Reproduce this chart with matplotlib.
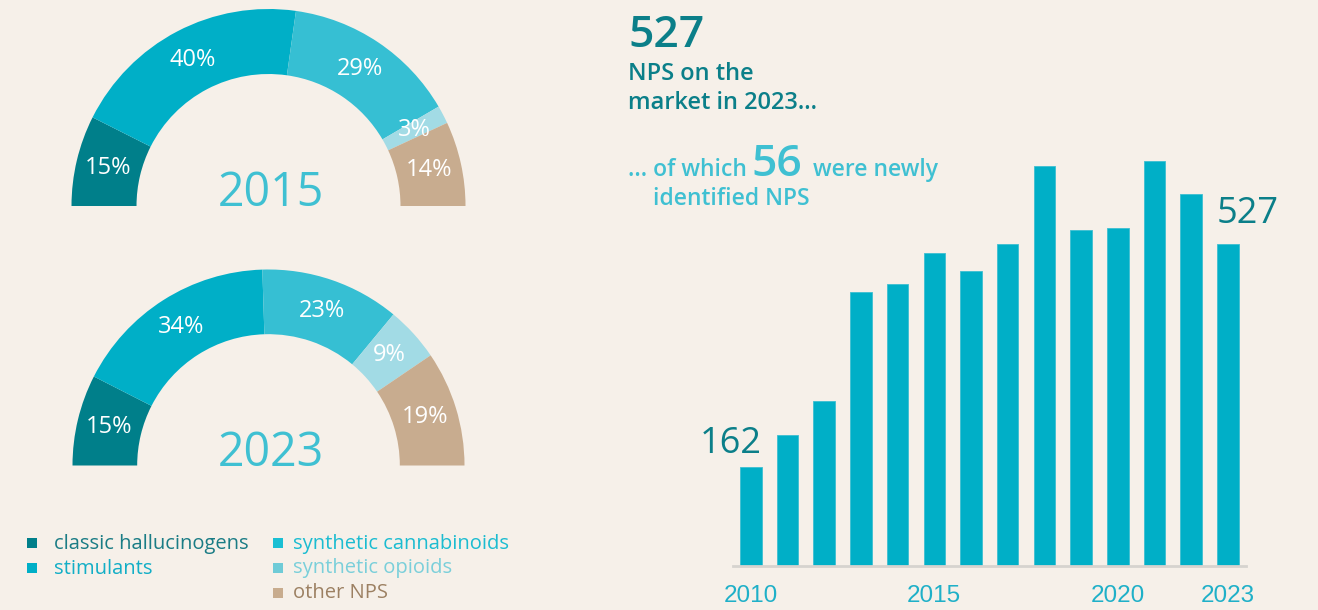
import matplotlib
matplotlib.use('Agg')
import matplotlib.pyplot as plt
from matplotlib import font_manager
import numpy as np

# 数据
categories = ['classic hallucinogens', 'stimulants', 'synthetic cannabinoids',
              'synthetic opioids', 'other NPS']
share_2015 = [15, 40, 29, 3, 14]
share_2023 = [15, 34, 23, 9, 19]
years = list(range(2010, 2024))
nps_counts = [162, 215, 270, 449, 462, 513, 484, 527, 656, 551, 553, 664, 610, 527]
tick_years = [2010, 2015, 2020, 2023]

# 颜色
bg = '#f6f0e9'
dark = '#0b7f89'
light = '#3fc0d2'
wedge_colors = ['#007f8a', '#00afc7', '#36bfd3', '#a2dbe5', '#c8ac8f']
marker_colors = ['#007f8a', '#00afc7', '#1abfd3', '#6fcbd7', '#c8ac8e']
legend_text_colors = ['#1a7c85', '#12aec6', '#1bbcd1', '#7acfda', '#9c8062']
bar_color = '#00afc7'

names = {f.name for f in font_manager.fontManager.ttflist}
narrow = 'Liberation Sans Narrow' if 'Liberation Sans Narrow' in names else 'Liberation Sans'
plt.rcParams['font.family'] = ['Open Sans', 'DejaVu Sans']

W, H = 1318, 610
fig = plt.figure(figsize=(W / 100, H / 100), dpi=100, facecolor=bg)


# 半环图
def half_donut(cx, cy, R, values, year):
    ax = fig.add_axes([(cx - R) / W, (H - cy - R) / H, 2 * R / W, 2 * R / H])
    ax.set_facecolor('none')
    vals = values + [sum(values)]
    wedges, _ = ax.pie(vals, colors=wedge_colors + [bg], startangle=180,
                       counterclock=False,
                       wedgeprops=dict(width=0.33, linewidth=0))
    wedges[-1].set_visible(False)
    ax.set_xlim(-1, 1)
    ax.set_ylim(-1, 1)
    for w, v in zip(wedges[:-1], values):
        ang = np.deg2rad((w.theta1 + w.theta2) / 2)
        ax.text(0.835 * np.cos(ang), 0.835 * np.sin(ang), f'{v}%',
                ha='center', va='center', color='white', fontsize=17)
    ax.text(0.01, 0.0, str(year), ha='center', va='baseline', fontsize=33.5,
            color=light)


half_donut(268.5, 206, 197, share_2015, 2015)
half_donut(268.5, 465.5, 196, share_2023, 2023)

# 柱状图
base_y = 566
ymax = 680
units_per_px = 1.638
top_y = base_y - ymax / units_per_px
left_px, right_px = 732.5, 1246.2
bx = fig.add_axes([left_px / W, (H - base_y) / H, (right_px - left_px) / W,
                   (base_y - top_y) / H])
bx.set_facecolor('none')
bw = 0.586
bx.bar(years, nps_counts, width=bw, color=bar_color, edgecolor='#3cbfd2',
       linewidth=0.6)
bx.set_xlim(years[0] - 0.5, years[-1] + 0.5)
bx.set_ylim(0, ymax)
for s in ['top', 'left', 'right']:
    bx.spines[s].set_visible(False)
bx.spines['bottom'].set_color('#d6d3cf')
bx.spines['bottom'].set_linewidth(2)
bx.set_yticks([])
bx.set_xticks(tick_years)
bx.set_xticklabels([str(y) for y in tick_years], family=[narrow, 'DejaVu Sans'],
                   fontsize=17.5, color='#1fb0c8')
bx.tick_params(axis='x', length=0, pad=14)

bx.annotate(str(nps_counts[0]), xy=(years[0] + bw / 2, nps_counts[0]),
            xytext=(0, 10), textcoords='offset points', ha='right',
            va='baseline', fontsize=26, color=dark)
bx.annotate(str(nps_counts[-1]), xy=(years[-1] - bw / 2, nps_counts[-1]),
            xytext=(0, 15), textcoords='offset points', ha='left',
            va='baseline', fontsize=26, color=dark)

# 文字和图例
ov = fig.add_axes([0, 0, 1, 1])
ov.set_facecolor('none')
ov.set_xlim(0, W)
ov.set_ylim(H, 0)
ov.axis('off')

ov.text(628, 47, str(nps_counts[-1]), fontsize=32, color=dark,
        weight='semibold', va='baseline')
ov.text(628, 80, 'NPS on the', fontsize=17, color=dark, weight='semibold',
        va='baseline')
ov.text(628, 109, 'market in 2023...', fontsize=17, color=dark,
        weight='semibold', va='baseline')
ov.text(628, 176, '... of which', fontsize=16.5, color=light,
        weight='semibold', va='baseline')
ov.text(751, 176, '56', fontsize=32, color=light, weight='semibold',
        va='baseline')
ov.text(813, 176, 'were newly', fontsize=16.5, color=light,
        weight='semibold', va='baseline')
ov.text(653, 205, 'identified NPS', fontsize=16.5, color=light,
        weight='semibold', va='baseline')

leg_pos = [(32, 543), (32, 567.5), (278, 543), (278, 567.5), (278, 592.5)]
leg_gap = [22, 22, 15, 15, 15]
for (x, y), gap, lab, mc, tc in zip(leg_pos, leg_gap, categories,
                                    marker_colors, legend_text_colors):
    ov.scatter([x], [y], marker='s', s=44, color=mc, linewidths=0)
    ov.text(x + gap, y + 6, lab, fontsize=14.5, color=tc, va='baseline')

fig.savefig('out.png', dpi=100, facecolor=bg)
